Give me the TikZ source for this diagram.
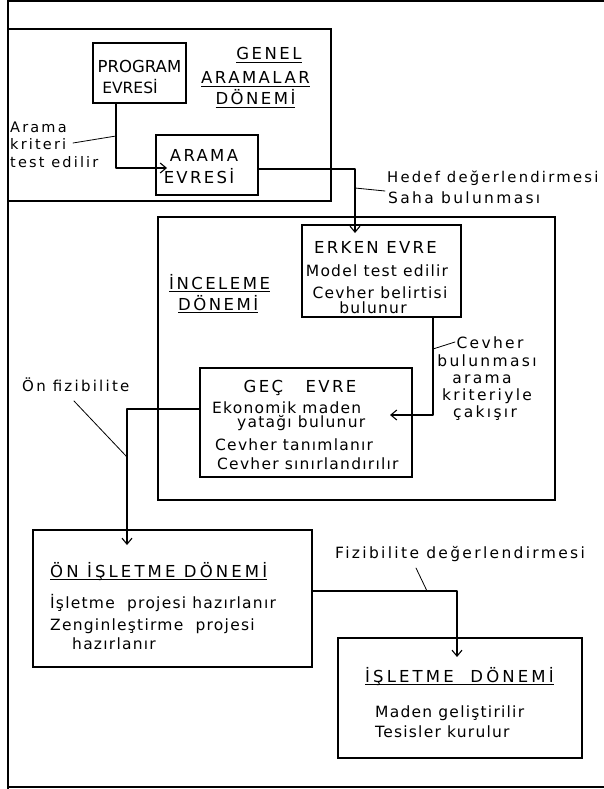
\documentclass[tikz,border=0pt]{standalone}
\usepackage{fontspec}
\setmainfont{DejaVu Sans}
\newfontfamily\handfont{DejaVu Sans}[LetterSpace=8]
\newfontfamily\labelfont{DejaVu Sans}[LetterSpace=15]
\newfontfamily\capsfont{DejaVu Sans}[LetterSpace=14]
\newfontfamily\titlefont{DejaVu Sans}[LetterSpace=15]
\newfontfamily\wtitlefont{DejaVu Sans}[LetterSpace=19]
\usetikzlibrary{arrows.meta}
\newcommand\ulined[1]{\setbox0\hbox{#1}\rlap{\rule[-3pt]{\wd0}{1.3pt}}\box0}
\tikzset{
  box/.style={draw,line width=1.6pt,inner sep=0pt},
  conn/.style={line width=1.1pt,line cap=round,line join=round},
  arr/.style={conn,-{Straight Barb[length=6pt,width=10pt]}},
  body/.style={inner sep=0pt,font=\handfont\fontsize{15.5}{18}\selectfont},
  lbl/.style={inner sep=0pt,font=\labelfont\fontsize{15.5}{18}\selectfont},
  caps/.style={inner sep=0pt,font=\capsfont\fontsize{16.5}{20}\selectfont},
  ttl/.style={inner sep=0pt,font=\titlefont\fontsize{16.5}{20}\selectfont},
  wttl/.style={inner sep=0pt,font=\wtitlefont\fontsize{16.5}{20}\selectfont},
}
\begin{document}
\begin{tikzpicture}[x=1pt,y=-1pt]
  \useasboundingbox (0,0) rectangle (604,789);
  % page frame
  \draw[line width=1.8pt] (8,1) -- (604,1);
  \draw[line width=1.8pt] (8,787) -- (604,787);
  \draw[line width=2.6pt] (8,0) -- (8,789);

  % genel aramalar donemi
  \node[box,minimum width=323,minimum height=172] (genel) at (169.5,115) {};
  \node[box,minimum width=93,minimum height=60] (prog) at (139.5,73) {};
  \node[box,minimum width=102,minimum height=60] (arama) at (207,165) {};
  \node[caps,font=\fontsize{16.5}{20}\selectfont,anchor=base] (progA) at (139.5,73) {PROGRAM};
  \node[caps,font=\fontsize{15.5}{20}\selectfont,anchor=base] (progB) at (130,94) {EVRESİ};
  \node[caps,anchor=base] (aramaA) at (204,161) {ARAMA};
  \node[caps,anchor=base] (aramaB) at (199,183) {EVRESİ};
  \node[ttl,anchor=base] (genA) at (269,60) {\ulined{GENEL}};
  \node[ttl,anchor=base] (genB) at (255.5,84) {\ulined{ARAMALAR}};
  \node[ttl,anchor=base] (genC) at (255.5,105) {\ulined{DÖNEMİ}};
  \node[lbl,font=\labelfont\fontsize{14.5}{17}\selectfont,anchor=base west] (akA) at (10,132) {Arama};
  \node[lbl,font=\labelfont\fontsize{14.5}{17}\selectfont,anchor=base west] (akB) at (10,149) {kriteri};
  \node[lbl,font=\labelfont\fontsize{14.5}{17}\selectfont,anchor=base west] (akC) at (10,167) {test edilir};

  % inceleme donemi
  \node[box,minimum width=397,minimum height=283] (incel) at (356.5,358.5) {};
  \node[box,minimum width=159,minimum height=92] (erken) at (381.5,271) {};
  \node[box,minimum width=212,minimum height=109] (gec) at (306,422.5) {};
  \node[ttl,anchor=base west] (incA) at (169,289) {\ulined{İNCELEME}};
  \node[ttl,anchor=base west] (incB) at (178,310) {\ulined{DÖNEMİ}};
  \node[caps,anchor=base] (erA) at (375.5,253) {ERKEN EVRE};
  \node[body,anchor=base] (erB) at (377,276) {Model test edilir};
  \node[body,anchor=base] (erC) at (380,298) {Cevher belirtisi};
  \node[body,anchor=base] (erD) at (373,313) {bulunur};
  \node[caps,anchor=base] (gcA) at (300,392) {GEÇ\ \ \ EVRE};
  \node[body,anchor=base west] (gcB) at (212,413) {Ekonomik maden};
  \node[body,anchor=base west] (gcC) at (237,427) {yatağı bulunur};
  \node[body,anchor=base west] (gcD) at (215,450) {Cevher tanımlanır};
  \node[body,anchor=base west] (gcE) at (217,469) {Cevher sınırlandırılır};

  % on isletme ve isletme
  \node[box,minimum width=279,minimum height=137] (onis) at (172.5,598.5) {};
  \node[box,minimum width=244,minimum height=120] (isl) at (460,698) {};
  \node[wttl,anchor=base west] (onA) at (50,577) {\ulined{ÖN İŞLETME DÖNEMİ}};
  \node[body,anchor=base west] (onB) at (50,608) {İşletme\ \ projesi hazırlanır};
  \node[body,anchor=base west] (onC) at (50,630) {Zenginleştirme\ \ projesi};
  \node[body,anchor=base west] (onD) at (72,649) {hazırlanır};
  \node[wttl,anchor=base west] (isA) at (365,682) {\ulined{İŞLETME\ \ DÖNEMİ}};
  \node[body,anchor=base west] (isB) at (375,717) {Maden geliştirilir};
  \node[body,anchor=base west] (isC) at (375,737) {Tesisler kurulur};

  % labels on the connectors
  \node[lbl,font=\labelfont\fontsize{14.8}{18}\selectfont,anchor=base west] (hedA) at (387,182) {Hedef değerlendirmesi};
  \node[lbl,anchor=base west] (hedB) at (388,203) {Saha bulunması};
  \node[lbl,anchor=base] (cvA) at (490,348) {Cevher};
  \node[lbl,anchor=base] (cvB) at (487,366) {bulunması};
  \node[lbl,anchor=base] (cvC) at (482,383) {arama};
  \node[lbl,anchor=base] (cvD) at (487,400) {kriteriyle};
  \node[lbl,anchor=base] (cvE) at (485,417) {çakışır};
  \node[lbl,font=\labelfont\fontsize{15}{18}\selectfont,anchor=base west] (onfiz) at (22,391) {Ön fizibilite};
  \node[lbl,anchor=base west] (fiz) at (335,558) {Fizibilite değerlendirmesi};

  % bends, tips and leader ends
  \coordinate (k1) at (116,168);  \coordinate (t1) at (167,168);
  \coordinate (k2) at (355,169);  \coordinate (t2) at (355,233);
  \coordinate (k3) at (433,415);  \coordinate (t3) at (390,415);
  \coordinate (k4) at (127,409);  \coordinate (t4) at (127,545);
  \coordinate (k5) at (457,591);  \coordinate (t5) at (457,657);
  \coordinate (a1) at (116,136);  \coordinate (a2) at (73,143);
  \coordinate (h1) at (355,188);  \coordinate (h2) at (385,191);
  \coordinate (c1) at (433,349);  \coordinate (c2) at (455,342);
  \coordinate (o1) at (127,457);  \coordinate (o2) at (74,401);
  \coordinate (f1) at (427,591);  \coordinate (f2) at (416,568);

  \draw[arr] (prog.south -| k1) -- (k1) -- (t1);
  \draw[arr] (arama.east |- k2) -- (k2) -- (t2);
  \draw[arr] (erken.south -| k3) -- (k3) -- (t3);
  \draw[arr] (gec.west |- k4) -- (k4) -- (t4);
  \draw[arr] (onis.east |- k5) -- (k5) -- (t5);
  \draw[conn,line width=0.8pt] (a1) -- (a2);
  \draw[conn,line width=0.8pt] (h1) -- (h2);
  \draw[conn,line width=0.8pt] (c1) -- (c2);
  \draw[conn,line width=0.8pt] (o1) -- (o2);
  \draw[conn,line width=0.8pt] (f1) -- (f2);
\end{tikzpicture}
\end{document}
